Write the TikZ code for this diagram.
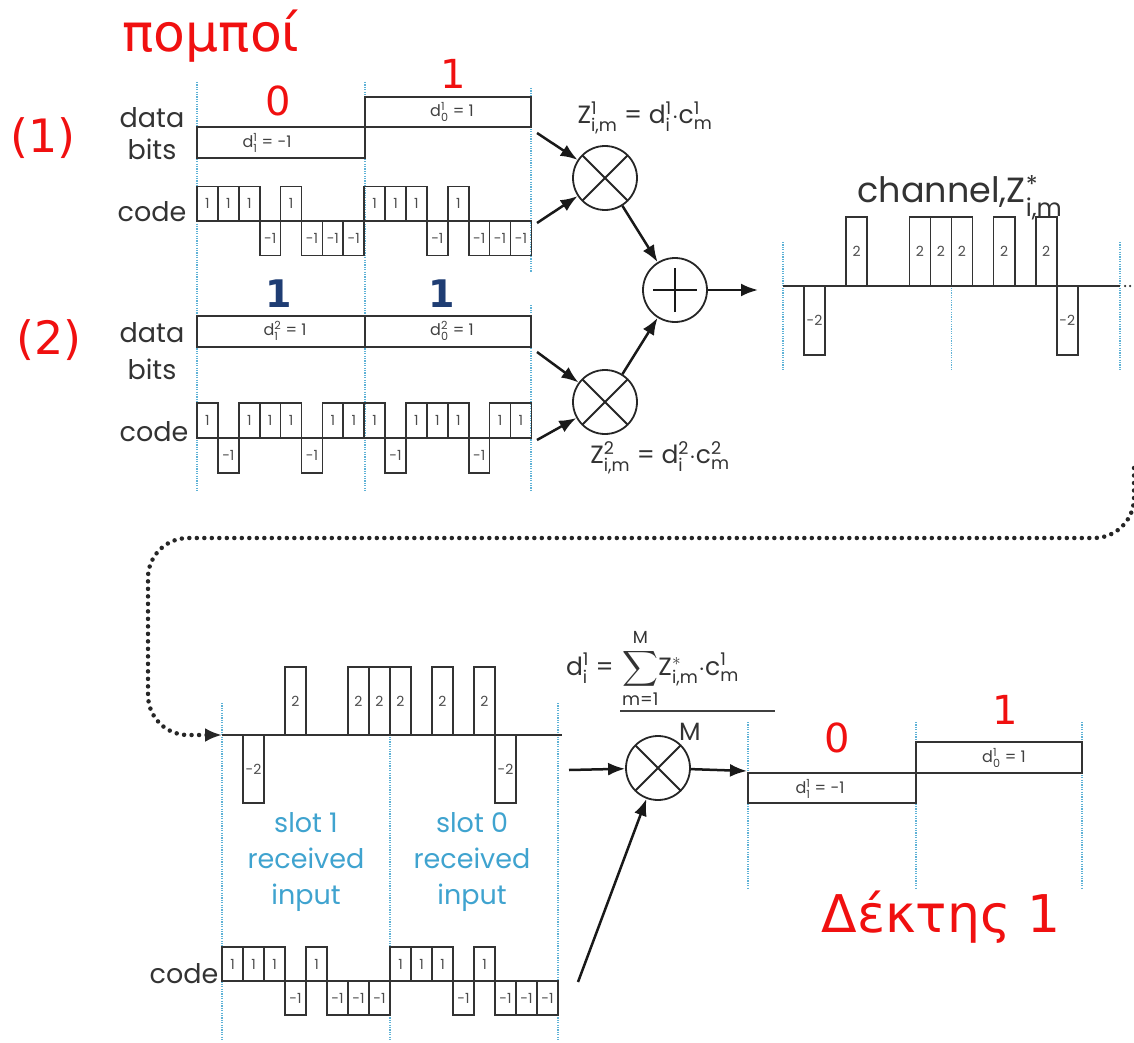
\documentclass[tikz,border=0pt]{standalone}
\usepackage{fontspec}
\usepackage{amsmath}
\setsansfont{Poppins}
\renewcommand{\familydefault}{\sfdefault}
\newfontfamily\greekfont{DejaVu Sans}
\usetikzlibrary{arrows.meta, calc, positioning}

\definecolor{slotblue}{HTML}{3FA3CF}
\definecolor{dotblue}{HTML}{5FB2D6}
\definecolor{navy}{HTML}{1F3D73}
\definecolor{labelgray}{HTML}{333333}
\definecolor{hotred}{HTML}{F01010}

\newcommand{\supsub}[2]{$^{\text{#1}}_{\text{#2}}$}

% chip train: x0, base line, chip width, unit height, values, name prefix
\newcommand{\chiptrain}[6]{%
  \foreach \v [count=\k] in {#5} {
    \ifnum\v=0\relax\else
      \draw[wave] ({#1+(\k-1)*#3},#2) rectangle ({#1+\k*#3},{#2-\v*#4});
      \node[chiplbl] (#6\k) at ({#1+(\k-0.5)*#3},{#2-\v*#4/2}) {\v};
    \fi
  }%
}

\tikzset{
  wave/.style={draw=black!80, line width=1.7pt},
  slotline/.style={draw=dotblue, line width=1.5pt, dash pattern=on 1.2pt off 1.2pt},
  chiplbl/.style={font=\fontsize{14}{14}\selectfont, text=black!70, inner sep=0pt},
  boxlbl/.style={font=\fontsize{16}{16}\selectfont, text=black!75, inner sep=0pt},
  rowlbl/.style={font=\fontsize{27}{#1}\selectfont, text=labelgray, inner sep=0pt, align=center},
  rowlbl/.default=30,
  eqlbl/.style={font=\fontsize{25}{25}\selectfont, text=labelgray, inner sep=0pt},
  chanlbl/.style={font=\fontsize{35}{35}\selectfont, text=labelgray, inner sep=0pt},
  redlbl/.style={font=\greekfont\fontsize{#1}{#1}\selectfont, text=hotred, inner sep=0pt},
  bitone/.style={font=\greekfont\bfseries\fontsize{38}{38}\selectfont, text=navy, inner sep=0pt},
  slotlbl/.style={font=\fontsize{27}{36}\selectfont, text=slotblue, align=center, inner sep=0pt},
  mixer/.style={circle, draw=black!85, line width=1.8pt, minimum size=64pt, inner sep=0pt,
    path picture={\draw[line width=1.8pt, black!85]
      (path picture bounding box.north west) -- (path picture bounding box.south east)
      (path picture bounding box.north east) -- (path picture bounding box.south west);}},
  adder/.style={circle, draw=black!85, line width=1.8pt, minimum size=64pt, inner sep=0pt,
    path picture={\draw[line width=2.4pt, black!90]
      ($(path picture bounding box.center)+(-22pt,0pt)$) -- ($(path picture bounding box.center)+(22pt,0pt)$)
      ($(path picture bounding box.center)+(0pt,-22pt)$) -- ($(path picture bounding box.center)+(0pt,22pt)$);}},
  flow/.style={-{Latex[length=17pt,width=13pt]}, line width=2.5pt, draw=black!90},
  linkdots/.style={-{Latex[length=17pt,width=14pt]}, line width=4.5pt, draw=black!85,
    dash pattern=on 0pt off 7.5pt, line cap=round, rounded corners=40pt},
}

\begin{document}
\begin{tikzpicture}[x=1pt, y=-1pt]
  \useasboundingbox (0,0) rectangle (1134,1043);

  % senders
  \node[redlbl=52] (tx) at (211,36) {πομποί};
  \node[redlbl=46] (u1) at (43,138) {(1)};
  \node[redlbl=46] (u2) at (49,340) {(2)};

  % slot borders of the senders
  \foreach \sx in {197,365} \draw[slotline] (\sx,82) -- (\sx,492);
  \draw[slotline] (531,88) -- (531,272);
  \draw[slotline] (531,305) -- (531,490);

  % user 1: data bits and code
  \node[rowlbl=32] (bitsA) at (152,134) {data\\bits};
  \draw[wave] (197,127) rectangle (365,158);
  \draw[wave] (365,97) rectangle (531,127);
  \node[boxlbl] (dA1) at (267,143) {d\supsub{1}{1} = -1};
  \node[boxlbl] (dA0) at (452,112) {d\supsub{1}{0} = 1};
  \node[redlbl=40] (vA1) at (278,101) {0};
  \node[redlbl=40] (vA0) at (453,74) {1};
  \node[rowlbl] (codeA) at (152,212) {code};
  \chiptrain{197}{221}{20.9}{34.5}{1,1,1,-1,1,-1,-1,-1,1,1,1,-1,1,-1,-1,-1}{ca}

  % user 2: data bits and code
  \node[rowlbl=37] (bitsB) at (152,351) {data\\bits};
  \draw[wave] (197,316) rectangle (365,347);
  \draw[wave] (365,316) rectangle (531,347);
  \node[boxlbl] (dB1) at (285,331) {d\supsub{2}{1} = 1};
  \node[boxlbl] (dB0) at (452,331) {d\supsub{2}{0} = 1};
  \node[bitone] (vB1) at (279,294) {1};
  \node[bitone] (vB0) at (442,294) {1};
  \node[rowlbl] (codeB) at (154,432) {code};
  \chiptrain{197}{438}{20.9}{35}{1,-1,1,1,1,-1,1,1,1,-1,1,1,1,-1,1,1}{cb}

  % spreading and summing
  \node[mixer] (mA) at (605,178) {};
  \node[mixer] (mB) at (605,402) {};
  \node[adder] (sum) at (675,290) {};
  \coordinate (inA1) at (537,133);
  \coordinate (inA2) at (537,223);
  \coordinate (inB1) at (537,352);
  \coordinate (inB2) at (537,440);
  \coordinate (chin) at (758,290);
  \draw[flow] (inA1) -- (mA);
  \draw[flow] (inA2) -- (mA);
  \draw[flow] (inB1) -- (mB);
  \draw[flow] (inB2) -- (mB);
  \draw[flow] (mA) -- (sum);
  \draw[flow] (mB) -- (sum);
  \draw[flow] (sum) -- (chin);
  \node[eqlbl] (zA) at (645,118) {Z\supsub{1}{i,m} = d\supsub{1}{i}$\cdot$c\supsub{1}{m}};
  \node[eqlbl] (zB) at (660,458) {Z\supsub{2}{i,m} = d\supsub{2}{i}$\cdot$c\supsub{2}{m}};

  % channel
  \foreach \sx in {783,951.5,1120} \draw[slotline] (\sx,242) -- (\sx,370);
  \draw[wave] (783,286) -- (1120,286);
  \draw[line width=2.5pt, black!80, dash pattern=on 0pt off 5pt, line cap=round] (1125,286) -- (1136,286);
  \chiptrain{783}{286}{21.06}{34.5}{0,-2,0,2,0,0,2,2,2,0,2,0,2,-2,0,0}{zc}
  \node[chanlbl] (chan) at (960,198) {channel,Z\supsub{*}{i,m}};

  % channel to receiver
  \coordinate (lkA) at (1134,468);
  \coordinate (rxin) at (222,735);
  \draw[linkdots] (lkA) |- (148,538) |- (rxin);

  % receiver input
  \foreach \sx in {222,390,558} \draw[slotline] (\sx,703) -- (\sx,1040);
  \draw[wave] (222,735) -- (562,735);
  \chiptrain{222}{735}{21}{34}{0,-2,0,2,0,0,2,2,2,0,2,0,2,-2,0,0}{rc}
  \node[slotlbl] (s1) at (306,862) {slot 1\\received\\input};
  \node[slotlbl] (s0) at (472,862) {slot 0\\received\\input};
  \node[rowlbl] (codeR) at (184,974) {code};
  \chiptrain{222}{981}{21}{34}{1,1,1,-1,1,-1,-1,-1,1,1,1,-1,1,-1,-1,-1}{cr}

  % despreading
  \node[mixer] (mR) at (658,768) {};
  \coordinate (rxA) at (569,770);
  \coordinate (rxB) at (578,982);
  \coordinate (dout) at (747,771);
  \draw[flow] (rxA) -- (mR);
  \draw[flow] (rxB) -- (mR);
  \draw[flow] (mR) -- (dout);
  \node[eqlbl, anchor=base west] (dsum) at (622,675) {$\displaystyle\sum_{\text{m=1}}^{\text{M}}$Z$^{*}_{\text{i,m}}\cdot$c$^{\text{1}}_{\text{m}}$};
  \node[eqlbl, anchor=base east] (dlhs) at (614,675) {d\supsub{1}{i} =};
  \draw[line width=1.6pt, black!75] (620,711) -- (775,711);
  \node[eqlbl] (mM) at (690,732) {M};

  % decoded bits
  \foreach \sx in {748,916,1082} \draw[slotline] (\sx,722) -- (\sx,889);
  \draw[wave] (748,773) rectangle (916,803);
  \draw[wave] (916,742) rectangle (1082,773);
  \node[boxlbl] (dR1) at (820,789) {d\supsub{1}{1} = -1};
  \node[boxlbl] (dR0) at (1004,758) {d\supsub{1}{0} = 1};
  \node[redlbl=40] (vR1) at (837,738) {0};
  \node[redlbl=40] (vR0) at (1005,710) {1};
  \node[redlbl=52] (rx) at (941,917) {Δέκτης 1};
\end{tikzpicture}
\end{document}
